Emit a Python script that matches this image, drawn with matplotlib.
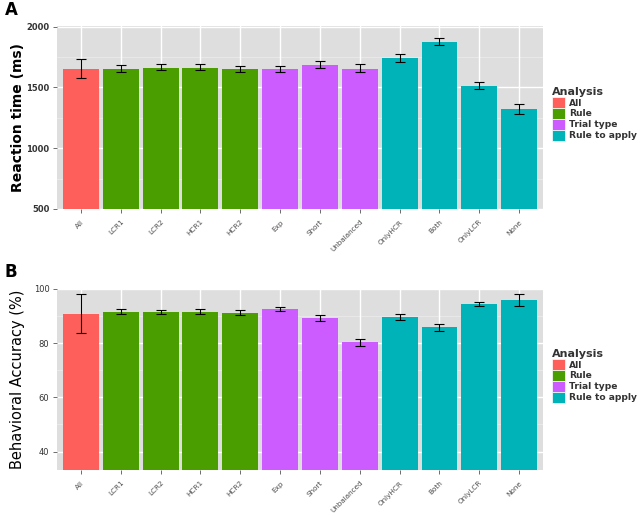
import matplotlib
matplotlib.use("Agg")
import matplotlib.pyplot as plt
import numpy as np
from matplotlib.patches import Patch

conditions = ["All", "LCR1", "LCR2", "HCR1", "HCR2", "Exp", "Short",
              "Unbalanced", "OnlyHCR", "Both", "OnlyLCR", "None"]
groups = ["All", "Rule", "Rule", "Rule", "Rule", "Trial type", "Trial type",
          "Trial type", "Rule to apply", "Rule to apply", "Rule to apply", "Rule to apply"]
group_names = ["All", "Rule", "Trial type", "Rule to apply"]
group_colors = {"All": "#FF5F5A", "Rule": "#4A9E00",
                "Trial type": "#CC5CFF", "Rule to apply": "#00B3B8"}

# reaction time (ms): mean, error bar low / high
rt_mean = [1655, 1655, 1662, 1662, 1652, 1652, 1687, 1655, 1741, 1877, 1508, 1323]
rt_low = [1580, 1630, 1640, 1640, 1625, 1630, 1660, 1625, 1706, 1850, 1484, 1285]
rt_high = [1730, 1682, 1690, 1690, 1680, 1680, 1715, 1690, 1777, 1910, 1541, 1366]

# behavioral accuracy (%)
acc_mean = [90.9, 91.6, 91.5, 91.6, 91.1, 92.6, 89.4, 80.3, 89.6, 85.8, 94.5, 96.1]
acc_low = [83.7, 90.8, 90.6, 90.8, 90.4, 91.9, 88.3, 78.8, 88.7, 84.6, 93.7, 93.8]
acc_high = [98.2, 92.6, 92.4, 92.6, 92.1, 93.3, 90.5, 81.6, 90.9, 87.1, 95.1, 98.2]

bg = "#DEDEDE"
txt_col = "#333333"


def panel(ax, means, lows, highs, ylim, ticks, ylabel, bold, label_size):
    x = np.arange(1, len(conditions) + 1)
    ax.set_facecolor(bg)
    for t in ticks:
        ax.axhline(t, color="white", lw=1.0, zorder=0)
    for a, b in zip(ticks[:-1], ticks[1:]):
        ax.axhline((a + b) / 2, color="#EDEDED", lw=0.5, zorder=0)
    for xi in x:
        ax.axvline(xi, color="white", lw=1.0, zorder=0)
    cols = [group_colors[g] for g in groups]
    ax.bar(x, np.array(means) - ylim[0], bottom=ylim[0], width=0.9,
           color=cols, zorder=2)
    m = np.array(means)
    yerr = [m - np.array(lows), np.array(highs) - m]
    ax.errorbar(x, m, yerr=yerr, fmt="none", ecolor="black", elinewidth=0.8,
                capsize=3.8, capthick=0.8, zorder=3)
    ax.set_xlim(0.4, len(conditions) + 0.6)
    ax.set_ylim(*ylim)
    ax.set_yticks(ticks)
    ax.set_yticklabels([str(t) for t in ticks], fontsize=6,
                       fontweight="bold" if bold else "normal", color=txt_col)
    ax.set_xticks(x)
    ax.set_xticklabels(conditions, rotation=45, ha="right", fontsize=5.2,
                       color="#4D4D4D", rotation_mode="anchor")
    ax.tick_params(axis="both", length=3, color="#555555", width=0.6)
    ax.tick_params(axis="x", pad=4)
    ax.tick_params(axis="y", pad=2.5)
    for s in ax.spines.values():
        s.set_visible(False)
    ax.set_ylabel(ylabel, fontsize=label_size,
                  fontweight="bold" if bold else "normal", color="black")
    ax.yaxis.set_label_coords(-0.066, 0.5)
    handles = [Patch(facecolor=group_colors[g], edgecolor="white",
                     linewidth=0.5, label=g)
               for g in group_names]
    leg = ax.legend(handles=handles, title="Analysis", loc="center left",
                    bbox_to_anchor=(1.005, 0.52), frameon=False, fontsize=6.6,
                    title_fontsize=8, handlelength=1.45, handleheight=1.45,
                    handletextpad=0.4, labelspacing=0.0, borderaxespad=0.3)
    leg._legend_box.align = "left"
    for t in leg.get_texts():
        t.set_fontweight("bold")
        t.set_color(txt_col)
    leg.get_title().set_fontweight("bold")
    leg.get_title().set_color(txt_col)


fig = plt.figure(figsize=(6.4, 5.16), dpi=100)
ax1 = fig.add_axes([57 / 640, 1 - 209 / 516, 486 / 640, 183 / 516])
ax2 = fig.add_axes([57 / 640, 1 - 470 / 516, 486 / 640, 181 / 516])

panel(ax1, rt_mean, rt_low, rt_high, (500, 2005), [500, 1000, 1500, 2000],
      "Reaction time (ms)", True, 10)
panel(ax2, acc_mean, acc_low, acc_high, (33.2, 100), [40, 60, 80, 100],
      "Behavioral Accuracy (%)", False, 10.5)

fig.text(5 / 640, 1 - 10 / 516, "A", fontsize=12, fontweight="bold", va="center")
fig.text(5 / 640, 1 - 272 / 516, "B", fontsize=12, fontweight="bold", va="center")

fig.savefig("out.png", dpi=100)
